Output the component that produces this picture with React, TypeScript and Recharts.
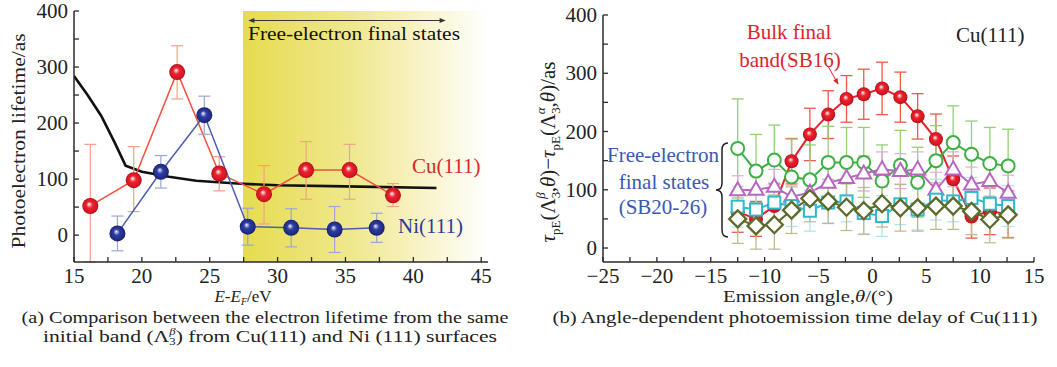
import React from 'react';
import { ComposedChart, Line, XAxis, YAxis, ErrorBar, ReferenceArea } from 'recharts';

// ---------- panel (a): lifetime vs E-EF ----------
const cuEnergy = [16.2, 19.4, 22.6, 25.7, 29.0, 32.1, 35.3, 38.5];
const cuLifetime = [52, 98, 291, 110, 73, 116, 116, 71];
const cuErrLow = [100, 56, 48, 31, 53, 52, 52, 20];
const cuErrHigh = [110, 60, 47, 30, 51, 51, 46, 21];

const niEnergy = [18.2, 21.4, 24.6, 27.8, 31.0, 34.2, 37.3];
const niLifetime = [3, 113, 214, 15, 13, 10, 13];
const niErr = [31, 29, 34, 33, 34, 41, 26];

const theoryEnergy = [15, 16, 17, 18, 18.8, 20, 22, 24, 27, 30, 35, 41.7];
const theoryLifetime = [284, 250, 213, 165, 124, 113, 104, 97, 92, 89, 87, 84];

const freeElectronStart = 27.45;

const aXTicks = [15, 17.5, 20, 22.5, 25, 27.5, 30, 32.5, 35, 37.5, 40, 42.5, 45];
const aYTicks = [0, 50, 100, 150, 200, 250, 300, 350, 400];

// ---------- panel (b): delay vs emission angle ----------
const angles = [-12.5, -10.8, -9.1, -7.5, -5.8, -4.1, -2.4, -0.8, 0.9, 2.6, 4.2, 5.9, 7.5, 9.2, 10.9, 12.6];
const sb16 = [62, 50, 72, 149, 195, 229, 256, 264, 274, 259, 226, 187, 118, 54, 63, 58];
const sb16Err = [35, 30, 38, 39, 45, 41, 40, 43, 45, 43, 39, 43, 40, 37, 40, 40];
const greenVals = [171, 132, 151, 122, 117, 147, 147, 147, 115, 142, 113, 150, 181, 161, 145, 141];
const greenErr = [85, 63, 60, 65, 60, 62, 60, 60, 62, 60, 60, 60, 63, 57, 62, 63];
const purpleVals = [99, 100, 105, 88, 95, 112, 120, 128, 135, 132, 135, 100, 135, 109, 115, 95];
const purpleErr = [25, 28, 30, 30, 30, 32, 30, 30, 30, 30, 30, 30, 30, 30, 30, 30];
const cyanVals = [71, 66, 78, 72, 64, 78, 80, 60, 55, 75, 66, 83, 80, 86, 76, 72];
const cyanErr = [35, 35, 35, 35, 35, 35, 35, 37, 35, 35, 35, 35, 35, 35, 35, 35];
const oliveVals = [50, 38, 40, 65, 85, 80, 70, 64, 76, 69, 69, 72, 72, 63, 49, 57];
const oliveErr = [42, 40, 42, 40, 40, 38, 40, 40, 40, 40, 40, 40, 40, 40, 40, 40];

const bXTicks = [-25, -22.5, -20, -17.5, -15, -12.5, -10, -7.5, -5, -2.5, 0, 2.5, 5, 7.5, 10, 12.5, 15];
const bYTicks = [0, 50, 100, 150, 200, 250, 300, 350, 400];

const SERIF = '"Liberation Serif", "Times New Roman", serif';
const AXIS = '#2a2a2a';

const cuData = cuEnergy.map((e, i) => ({ e, v: cuLifetime[i], err: [cuErrLow[i], cuErrHigh[i]] }));
const niData = niEnergy.map((e, i) => ({ e, v: niLifetime[i], err: niErr[i] }));
const theoryData = theoryEnergy.map((e, i) => ({ e, v: theoryLifetime[i] }));

const bData = angles.map((a, i) => ({
  a,
  red: sb16[i], redErr: sb16Err[i],
  green: greenVals[i], greenErr: greenErr[i],
  purple: purpleVals[i], purpleErr: purpleErr[i],
  cyan: cyanVals[i], cyanErr: cyanErr[i],
  olive: oliveVals[i], oliveErr: oliveErr[i],
}));

const fmt = (v: number) => (v < 0 ? `\u2212${-v}` : `${v}`);

// inward ticks, label only on major values
const makeTick = (side: string, labelStep: number | null) => (props: any) => {
  const { x, y, payload } = props;
  const v = payload.value;
  const isMajor = labelStep !== null && Math.abs(v / labelStep - Math.round(v / labelStep)) < 1e-6;
  const L = 5;
  let line;
  if (side === 'left') line = <line x1={x} y1={y} x2={x + L} y2={y} stroke={AXIS} strokeWidth={1.3} />;
  else if (side === 'right') line = <line x1={x} y1={y} x2={x - L} y2={y} stroke={AXIS} strokeWidth={1.3} />;
  else if (side === 'top') line = <line x1={x} y1={y} x2={x} y2={y + L} stroke={AXIS} strokeWidth={1.3} />;
  else line = <line x1={x} y1={y} x2={x} y2={y - L} stroke={AXIS} strokeWidth={1.3} />;
  return (
    <g>
      {line}
      {isMajor && side === 'left' && (
        <text x={x - 6} y={y + 7} textAnchor="end" fontSize={21} fontFamily={SERIF} fill="#222">{fmt(v)}</text>
      )}
      {isMajor && side === 'bottom' && (
        <text x={x} y={y + 21} textAnchor="middle" fontSize={21} fontFamily={SERIF} fill="#222">{fmt(v)}</text>
      )}
    </g>
  );
};

const ball = (grad: string, r: number) => (p: any) => (
  <circle key={`b${p.index}`} cx={p.cx} cy={p.cy} r={r} fill={`url(#${grad})`} />
);
const openCircle = (color: string) => (p: any) => (
  <circle key={`c${p.index}`} cx={p.cx} cy={p.cy} r={6.5} fill="#fff" stroke={color} strokeWidth={2} />
);
const triangle = (color: string) => (p: any) => (
  <polygon key={`t${p.index}`} points={`${p.cx},${p.cy - 8} ${p.cx - 7.5},${p.cy + 5} ${p.cx + 7.5},${p.cy + 5}`}
    fill="#fff" stroke={color} strokeWidth={2} />
);
const square = (color: string) => (p: any) => (
  <rect key={`s${p.index}`} x={p.cx - 6} y={p.cy - 6} width={12} height={12} fill="#fff" stroke={color} strokeWidth={2} />
);
const diamond = (color: string) => (p: any) => (
  <polygon key={`d${p.index}`} points={`${p.cx},${p.cy - 8.5} ${p.cx + 8.5},${p.cy} ${p.cx},${p.cy + 8.5} ${p.cx - 8.5},${p.cy}`}
    fill="#fff" stroke={color} strokeWidth={2.3} />
);

const PanelA = () => (
  <ComposedChart width={500} height={290} margin={{ top: 11, right: 12, left: 0, bottom: 0 }}>
    <XAxis xAxisId={0} type="number" dataKey="e" domain={[15, 45.5]} allowDataOverflow ticks={aXTicks} interval={0}
      height={28} tickSize={0} tickMargin={0} tickLine={false} axisLine={{ stroke: AXIS, strokeWidth: 1.5 }}
      tick={makeTick('bottom', 5)} />
    <XAxis xAxisId="top" orientation="top" type="number" domain={[15, 45.5]} allowDataOverflow ticks={aXTicks} interval={0}
      height={0} tickSize={0} tickMargin={0} tickLine={false} axisLine={{ stroke: '#555', strokeWidth: 1.2 }}
      tick={makeTick('top', null)} />
    <YAxis yAxisId={0} type="number" domain={[-48, 400]} allowDataOverflow ticks={aYTicks} interval={0}
      width={74} tickSize={0} tickMargin={0} tickLine={false} axisLine={{ stroke: AXIS, strokeWidth: 1.5 }}
      tick={makeTick('left', 100)} />
    <YAxis yAxisId="right" orientation="right" type="number" domain={[-48, 400]} allowDataOverflow ticks={aYTicks} interval={0}
      width={0} tickSize={0} tickMargin={0} tickLine={false} axisLine={{ stroke: '#555', strokeWidth: 1.2 }}
      tick={makeTick('right', null)} />
    <ReferenceArea x1={freeElectronStart} x2={45.5} y1={-48} y2={400} fill="url(#yellowBand)" fillOpacity={1} stroke="none" />
    <Line data={theoryData} dataKey="v" type="linear" stroke="#111" strokeWidth={2.6} dot={false} isAnimationActive={false} />
    <Line data={cuData} dataKey="v" stroke="#f2503c" strokeWidth={1.5} dot={ball('redBall', 8)} activeDot={false} isAnimationActive={false}>
      <ErrorBar dataKey="err" direction="y" width={6} stroke="#f5a088" strokeWidth={1.2} isAnimationActive={false} />
    </Line>
    <Line data={niData} dataKey="v" stroke="#4b5db3" strokeWidth={1.5} dot={ball('blueBall', 8)} activeDot={false} isAnimationActive={false}>
      <ErrorBar dataKey="err" direction="y" width={6} stroke="#9aa6d4" strokeWidth={1.2} isAnimationActive={false} />
    </Line>
  </ComposedChart>
);

const PanelB = () => (
  <ComposedChart width={527} height={290} data={bData} margin={{ top: 15, right: 23, left: 0, bottom: 0 }}>
    <XAxis xAxisId={0} type="number" dataKey="a" domain={[-25, 15]} allowDataOverflow ticks={bXTicks} interval={0}
      height={28} tickSize={0} tickMargin={0} tickLine={false} axisLine={{ stroke: AXIS, strokeWidth: 1.5 }}
      tick={makeTick('bottom', 5)} />
    <XAxis xAxisId="top" orientation="top" type="number" domain={[-25, 15]} allowDataOverflow ticks={bXTicks} interval={0}
      height={0} tickSize={0} tickMargin={0} tickLine={false} axisLine={{ stroke: '#555', strokeWidth: 1.2 }}
      tick={makeTick('top', null)} />
    <YAxis yAxisId={0} type="number" domain={[-24, 400]} allowDataOverflow ticks={bYTicks} interval={0}
      width={73} tickSize={0} tickMargin={0} tickLine={false} axisLine={{ stroke: AXIS, strokeWidth: 1.5 }}
      tick={makeTick('left', 100)} />
    <YAxis yAxisId="right" orientation="right" type="number" domain={[-24, 400]} allowDataOverflow ticks={bYTicks} interval={0}
      width={0} tickSize={0} tickMargin={0} tickLine={false} axisLine={{ stroke: '#555', strokeWidth: 1.2 }}
      tick={makeTick('right', null)} />
    <Line dataKey="red" stroke="#e8202a" strokeWidth={2} dot={ball('redBall', 7)} activeDot={false} isAnimationActive={false}>
      <ErrorBar dataKey="redErr" direction="y" width={6} stroke="#f0584a" strokeWidth={1.3} isAnimationActive={false} />
    </Line>
    <Line dataKey="green" stroke="#3cb043" strokeWidth={2} dot={openCircle('#3cb043')} activeDot={false} isAnimationActive={false}>
      <ErrorBar dataKey="greenErr" direction="y" width={6} stroke="#92d070" strokeWidth={1.3} isAnimationActive={false} />
    </Line>
    <Line dataKey="purple" stroke="#b866c2" strokeWidth={2} dot={triangle('#b866c2')} activeDot={false} isAnimationActive={false}>
      <ErrorBar dataKey="purpleErr" direction="y" width={6} stroke="#e4a8d8" strokeWidth={1.2} isAnimationActive={false} />
    </Line>
    <Line dataKey="cyan" stroke="#2fb8cc" strokeWidth={2} dot={square('#2fb8cc')} activeDot={false} isAnimationActive={false}>
      <ErrorBar dataKey="cyanErr" direction="y" width={6} stroke="#aee2ec" strokeWidth={1.2} isAnimationActive={false} />
    </Line>
    <Line dataKey="olive" stroke="#5c6b2a" strokeWidth={2} dot={diamond('#5c6b2a')} activeDot={false} isAnimationActive={false}>
      <ErrorBar dataKey="oliveErr" direction="y" width={6} stroke="#bcb88a" strokeWidth={1.2} isAnimationActive={false} />
    </Line>
  </ComposedChart>
);

const Defs = () => (
  <svg width={0} height={0} style={{ position: 'absolute' }}>
    <defs>
      <linearGradient id="yellowBand" x1="0" y1="0" x2="1" y2="0">
        <stop offset="0%" stopColor="#e6dc50" />
        <stop offset="45%" stopColor="#f0e88f" />
        <stop offset="80%" stopColor="#faf6d6" />
        <stop offset="100%" stopColor="#ffffff" />
      </linearGradient>
      <radialGradient id="redBall" cx="50%" cy="50%" r="50%" fx="42%" fy="38%">
        <stop offset="0%" stopColor="#ffffff" />
        <stop offset="16%" stopColor="#f7a6a6" />
        <stop offset="40%" stopColor="#ec2330" />
        <stop offset="85%" stopColor="#d41422" />
        <stop offset="100%" stopColor="#a30c18" />
      </radialGradient>
      <radialGradient id="blueBall" cx="50%" cy="50%" r="50%" fx="42%" fy="38%">
        <stop offset="0%" stopColor="#ffffff" />
        <stop offset="16%" stopColor="#9aa4dc" />
        <stop offset="40%" stopColor="#2e3ca0" />
        <stop offset="85%" stopColor="#1f2b85" />
        <stop offset="100%" stopColor="#141c60" />
      </radialGradient>
    </defs>
  </svg>
);

const Overlay = () => (
  <svg width={1057} height={367} style={{ position: 'absolute', left: 0, top: 0, pointerEvents: 'none' }}
    fontFamily={SERIF}>
    <defs>
      <marker id="headBlack" viewBox="0 0 10 10" refX="9" refY="5" markerWidth="8" markerHeight="6" orient="auto-start-reverse">
        <path d="M0,1 L10,5 L0,9 Z" fill="#333" />
      </marker>
      <marker id="headRed" viewBox="0 0 10 10" refX="9" refY="5" markerWidth="7" markerHeight="6" orient="auto">
        <path d="M0,1 L10,5 L0,9 Z" fill="#d8262c" />
      </marker>
    </defs>

    {/* panel (a) */}
    <text transform="translate(25,141) rotate(-90)" textAnchor="middle" fontSize={19} fill="#222"
      textLength={215} lengthAdjust="spacingAndGlyphs">Photoelectron lifetime/as</text>
    <line x1={249} y1={20.5} x2={445} y2={20.5} stroke="#333" strokeWidth={1} markerStart="url(#headBlack)" markerEnd="url(#headBlack)" />
    <text x={248} y={40} fontSize={19} fill="#111" textLength={212} lengthAdjust="spacingAndGlyphs">Free-electron final states</text>
    <text x={412} y={173} fontSize={21} fill="#d9262c">Cu(111)</text>
    <text x={398} y={233} fontSize={21} fill="#2b3c99">Ni(111)</text>
    <text x={243} y={302} textAnchor="middle" fontSize={17} fill="#222">
      <tspan fontStyle="italic">E</tspan>-<tspan fontStyle="italic">E</tspan>
      <tspan fontSize={10} dy={3} fontStyle="italic">F</tspan><tspan dy={-3}>/eV</tspan>
    </text>
    <text x={265} y={323} textAnchor="middle" fontSize={17} fill="#222"
      textLength={487} lengthAdjust="spacingAndGlyphs">(a) Comparison between the electron lifetime from the same</text>
    <text x={270} y={342} textAnchor="middle" fontSize={17} fill="#222" textLength={454} lengthAdjust="spacingAndGlyphs">
      initial band (Λ<tspan fontSize={10} dy={3}>3</tspan><tspan fontSize={10} dx={-5} dy={-10} fontStyle="italic">β</tspan><tspan dy={7}>) from Cu(111) and Ni (111) surfaces</tspan>
    </text>

    {/* panel (b) */}
    <text transform="translate(555,152) rotate(-90)" textAnchor="middle" fontSize={21} fill="#222">
      <tspan fontStyle="italic">τ</tspan><tspan fontSize={13} dy={5}>pE</tspan><tspan dy={-5}>(Λ</tspan>
      <tspan fontSize={13} dy={5}>3</tspan><tspan fontSize={13} dx={-7} dy={-15} fontStyle="italic">β</tspan>
      <tspan dy={10}>,</tspan><tspan fontStyle="italic">θ</tspan><tspan>)−</tspan><tspan fontStyle="italic">τ</tspan>
      <tspan fontSize={13} dy={5}>pE</tspan><tspan dy={-5}>(Λ</tspan>
      <tspan fontSize={13} dy={5}>3</tspan><tspan fontSize={13} dx={-7} dy={-15} fontStyle="italic">α</tspan>
      <tspan dy={10}>,</tspan><tspan fontStyle="italic">θ</tspan><tspan>)/as</tspan>
    </text>
    <text x={789} y={39} textAnchor="middle" fontSize={21} fill="#d8262c">Bulk final</text>
    <text x={790} y={67} textAnchor="middle" fontSize={21} fill="#d8262c">band(SB16)</text>
    <line x1={828} y1={66} x2={838} y2={84} stroke="#d8262c" strokeWidth={1} markerEnd="url(#headRed)" />
    <text x={956} y={42} fontSize={21} fill="#222">Cu(111)</text>
    <text x={663} y={162} textAnchor="middle" fontSize={21} fill="#3a58b5">Free-electron</text>
    <text x={664} y={189} textAnchor="middle" fontSize={21} fill="#3a58b5">final states</text>
    <text x={663} y={214} textAnchor="middle" fontSize={21} fill="#3a58b5">(SB20-26)</text>
    <path d="M728,143 Q722,143 722,150 L722,183 Q722,190 716,190 Q722,190 722,197 L722,230 Q722,237 728,237"
      fill="none" stroke="#222" strokeWidth={1.5} />
    <text x={808} y={302} textAnchor="middle" fontSize={17} fill="#222" textLength={170} lengthAdjust="spacingAndGlyphs">
      Emission angle,<tspan fontStyle="italic">θ</tspan>/(°)
    </text>
    <text x={795} y={323} textAnchor="middle" fontSize={17} fill="#222"
      textLength={485} lengthAdjust="spacingAndGlyphs">(b) Angle-dependent photoemission time delay of Cu(111)</text>
  </svg>
);

export default function App() {
  return (
    <div style={{ position: 'absolute', left: 0, top: 0, width: 1057, height: 367, background: '#fff', overflow: 'hidden' }}>
      <Defs />
      <div style={{ position: 'absolute', left: 0, top: 0 }}>
        <PanelA />
      </div>
      <div style={{ position: 'absolute', left: 530, top: 0 }}>
        <PanelB />
      </div>
      <Overlay />
    </div>
  );
}
